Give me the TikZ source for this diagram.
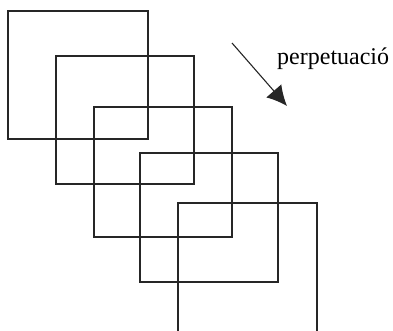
\documentclass[tikz,border=0pt]{standalone}
\usepackage{fontspec}
\setmainfont{Liberation Serif}
\usetikzlibrary{arrows.meta}
\begin{document}
\begin{tikzpicture}[x=1pt,y=-1pt,
  sq/.style={draw=black!85,line width=1.3pt},
  arr/.style={draw=black!85,line width=1.1pt,-{Latex[length=20pt,width=20pt]}},
  lbl/.style={font=\fontsize{24}{27}\selectfont,inner sep=0pt,anchor=base west}]
\useasboundingbox (0,0) rectangle (393,330);
\clip (0,0) rectangle (393,330);
\draw[sq] (8,11) rectangle (148,139);
\draw[sq] (56,56) rectangle (194,184);
\draw[sq] (94,107) rectangle (232,237);
\draw[sq] (140,153) rectangle (278,282);
\draw[sq] (178,345) -- (178,203) -- (317,203) -- (317,345);
\coordinate (s) at (232,43);
\coordinate (t) at (287,106);
\draw[arr] (s) -- (t);
\node[lbl] (p) at (277,64) {perpetuació};
\end{tikzpicture}
\end{document}
